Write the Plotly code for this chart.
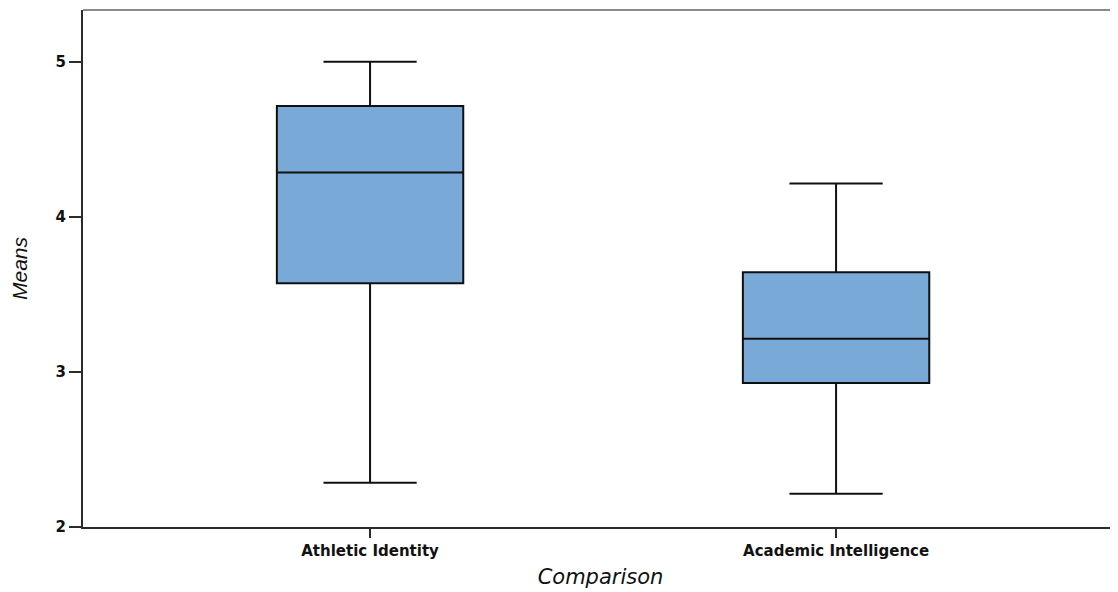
import plotly.graph_objects as go

categories = ["Athletic Identity", "Academic Intelligence"]
upper_whisker = [5.0, 4.214]
q3_values = [4.714, 3.643]
median_values = [4.286, 3.214]
q1_values = [3.571, 2.929]
lower_whisker = [2.286, 2.214]
y_ticks = [2, 3, 4, 5]

fig = go.Figure()
fig.add_trace(go.Box(
    x=categories,
    q1=q1_values,
    median=median_values,
    q3=q3_values,
    lowerfence=lower_whisker,
    upperfence=upper_whisker,
    boxpoints=False,
    width=0.4,
    whiskerwidth=0.5,
    fillcolor="#79a9d6",
    line=dict(color="#101010", width=2),
    showlegend=False,
))

fig.update_layout(
    width=1110, height=584,
    margin=dict(l=75, r=0, t=2, b=65),
    paper_bgcolor="white", plot_bgcolor="white",
    font=dict(family="DejaVu Sans", color="#111111"),
)
fig.update_xaxes(
    range=[-0.616, 1.605],
    showgrid=False, zeroline=False,
    showline=True, linecolor="#2b2b2b", linewidth=2,
    ticks="outside", ticklen=9, tickwidth=2, tickcolor="#2b2b2b",
    tickfont=dict(family="DejaVu Sans", size=15, weight="bold", color="#111111"),
    title=dict(text="Comparison", standoff=10,
               font=dict(family="DejaVu Sans", size=21, style="italic", color="#111111")),
)
fig.update_yaxes(
    range=[2, 5.333],
    tickvals=y_ticks,
    showgrid=False, zeroline=False,
    showline=True, linecolor="#2b2b2b", linewidth=2,
    ticks="outside", ticklen=12, tickwidth=2, tickcolor="#2b2b2b",
    tickfont=dict(family="DejaVu Sans", size=15, weight="bold", color="#111111"),
    title=dict(text="Means", standoff=22,
               font=dict(family="Liberation Sans", size=21, style="italic", color="#111111")),
)
fig.add_shape(type="line", xref="paper", yref="paper", x0=0, x1=1, y0=1, y1=1,
              line=dict(color="#8a8a8a", width=2))

fig.write_html("out.html")
